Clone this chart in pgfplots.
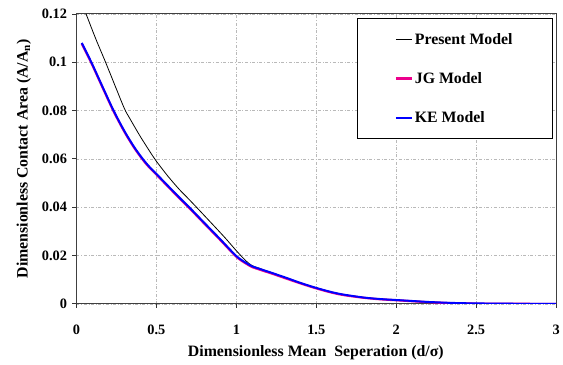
\documentclass[border=0pt]{standalone}
\usepackage{fontspec}
\setmainfont{Liberation Serif}
\usepackage{pgfplots}
\pgfplotsset{compat=1.18}
\pgfplotstableread{
x y
0.033 0.1080
0.093 0.1000
0.16 0.0903
0.232 0.0800
0.30 0.0715
0.36 0.0650
0.412 0.0602
0.455 0.0568
0.50 0.0538
0.57 0.0490
0.65 0.0436
0.705 0.0400
0.80 0.0335
0.90 0.0267
1.00 0.0198
1.06 0.0170
1.10 0.0155
1.15 0.0144
1.25 0.0122
1.32 0.0106
1.40 0.0087
1.50 0.0066
1.60 0.0048
1.675 0.0038
1.80 0.0026
1.90 0.0020
2.00 0.0016
2.10 0.0012
2.20 0.0008
2.35 0.0004
2.50 0.0002
2.75 0.00005
3.0 0
}\ke
\pgfplotstableread{
x y
0.033 0.1077
0.093 0.0997
0.16 0.0900
0.232 0.0797
0.30 0.0712
0.36 0.0647
0.412 0.0599
0.455 0.0565
0.50 0.0535
0.57 0.0487
0.65 0.0433
0.705 0.0397
0.80 0.0332
0.90 0.0264
1.00 0.0195
1.06 0.0167
1.10 0.0152
1.15 0.0141
1.25 0.0119
1.32 0.0103
1.40 0.0085
1.50 0.0064
1.60 0.0046
1.675 0.0036
1.80 0.0025
1.90 0.0019
2.00 0.0015
2.10 0.0011
2.20 0.0007
2.35 0.0003
2.50 0.0001
2.75 0.00003
3.0 0
}\jg
\pgfplotstableread{
x y
0.06 0.1200
0.12 0.1098
0.182 0.1000
0.24 0.0905
0.30 0.0808
0.333 0.0768
0.40 0.0692
0.474 0.0615
0.50 0.0590
0.57 0.0530
0.64 0.0476
0.69 0.0442
0.745 0.0404
0.85 0.0330
0.93 0.0273
1.00 0.0220
1.06 0.0178
1.10 0.0158
1.15 0.0146
1.25 0.0122
1.32 0.0106
1.40 0.0087
1.50 0.0066
1.60 0.0048
1.675 0.0038
1.80 0.0026
1.90 0.0020
2.00 0.0016
2.10 0.0012
2.20 0.0008
2.35 0.0004
2.50 0.0002
2.75 0.00005
3.0 0
}\present
\begin{document}
\begin{tikzpicture}
\begin{axis}[
  scale only axis,
  width=483bp, height=292bp,
  xmin=0, xmax=3, ymin=0, ymax=0.12,
  xtick={0,0.5,1,1.5,2,2.5,3},
  xticklabels={0,0.5,1,1.5,2,2.5,3},
  ytick={0,0.02,0.04,0.06,0.08,0.1,0.12},
  yticklabels={0,0.02,0.04,0.06,0.08,0.1,0.12},
  tick align=outside,
  tick pos=left,
  major tick length=4bp,
  tick style={black!80, line width=0.8pt},
  grid=major,
  major grid style={gray!55, dash dot, line width=0.5pt},
  axis line style={black!75, line width=1pt},
  ticklabel style={font=\fontsize{14.5}{16}\selectfont\bfseries},
  xticklabel style={yshift=-14bp},
  yticklabel style={xshift=-2bp},
  xlabel={Dimensionless Mean\ \ Seperation (d/σ)},
  ylabel={Dimensionless Contact Area (A/A\textsubscript{n})},
  label style={font=\fontsize{16}{18}\selectfont\bfseries},
  xlabel style={at={(axis description cs:0.499,-0.168)}, anchor=center},
  ylabel style={at={(axis description cs:-0.11,0.5)}, anchor=center},
  legend style={at={(0.584,0.987)}, anchor=north west, draw=black, line width=1pt,
    inner xsep=38bp, inner ysep=13bp, row sep=23bp,
    font=\fontsize{16}{18}\selectfont\bfseries},
  legend cell align=left,
  legend image code/.code={\draw[#1] (0bp,0bp) -- (16bp,0bp);},
]
\addplot[black, line width=0.8pt, smooth, tension=0.5] table[x=x,y=y] {\present};
\addlegendentry{Present Model}
\addplot[magenta, line width=2.2pt, smooth, tension=0.5] table[x=x,y=y] {\jg};
\addlegendentry{JG Model}
\addplot[blue, line width=2pt, smooth, tension=0.5] table[x=x,y=y] {\ke};
\addlegendentry{KE Model}
\end{axis}
\path (current axis.south west) ++(-77bp,-61bp) rectangle ++(563bp,367bp);
\end{tikzpicture}
\end{document}
